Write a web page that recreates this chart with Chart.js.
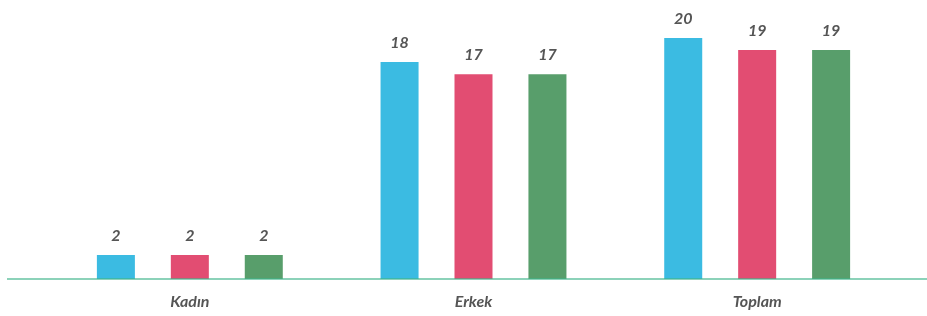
<!DOCTYPE html>
<html>
<head>
<meta charset="utf-8">
<script src="https://cdn.jsdelivr.net/npm/chart.js@4.4.1/dist/chart.umd.min.js"></script>
<style>
  html, body { margin: 0; padding: 0; background: #fff; }
  #wrap { width: 927px; height: 316px; position: relative; }
</style>
</head>
<body>
<div id="wrap"><canvas id="chart"></canvas></div>
<script>
// categories and series
const categories = ['Kadın', 'Erkek', 'Toplam'];
const seriesBlue = [2, 18, 20];
const seriesRed = [2, 17, 19];
const seriesGreen = [2, 17, 19];

const textColor = '#555555';

// value labels above each bar
const valueLabels = {
    id: 'valueLabels',
    afterDatasetsDraw(chart) {
        const ctx = chart.ctx;
        ctx.save();
        ctx.font = 'italic bold 16px Lato';
        ctx.fillStyle = textColor;
        ctx.textAlign = 'center';
        ctx.textBaseline = 'middle';
        chart.data.datasets.forEach((ds, i) => {
            chart.getDatasetMeta(i).data.forEach((bar, j) => {
                ctx.fillText(String(ds.data[j]), bar.x, bar.y - 19);
            });
        });
        ctx.restore();
    }
};

// thin baseline drawn across the whole width, over the bars
const baseline = {
    id: 'baseline',
    afterDatasetsDraw(chart) {
        const ctx = chart.ctx;
        const y = chart.scales.y.getPixelForValue(0);
        ctx.save();
        ctx.strokeStyle = 'rgba(63, 180, 138, 0.6)';
        ctx.lineWidth = 2;
        ctx.beginPath();
        ctx.moveTo(7, y);
        ctx.lineTo(chart.width, y);
        ctx.stroke();
        ctx.restore();
    }
};

new Chart(document.getElementById('chart'), {
    type: 'bar',
    data: {
        labels: categories,
        datasets: [
            { data: seriesBlue, backgroundColor: '#3bbbe2' },
            { data: seriesRed, backgroundColor: '#e24d72' },
            { data: seriesGreen, backgroundColor: '#589e6b' }
        ]
    },
    options: {
        responsive: true,
        maintainAspectRatio: false,
        animation: false,
        categoryPercentage: 0.782,
        barPercentage: 0.514,
        layout: { padding: { left: 48, right: 28, top: 38, bottom: 0 } },
        plugins: { legend: { display: false }, tooltip: { enabled: false } },
        scales: {
            x: {
                grid: { display: false, drawTicks: false },
                border: { display: false },
                ticks: {
                    color: textColor,
                    padding: 13,
                    font: { family: 'Lato', style: 'italic', weight: 'bold', size: 16 }
                },
                afterFit(scale) { scale.height = 37; }
            },
            y: {
                display: false,
                min: 0,
                max: 20
            }
        }
    },
    plugins: [valueLabels, baseline]
});
</script>
</body>
</html>
